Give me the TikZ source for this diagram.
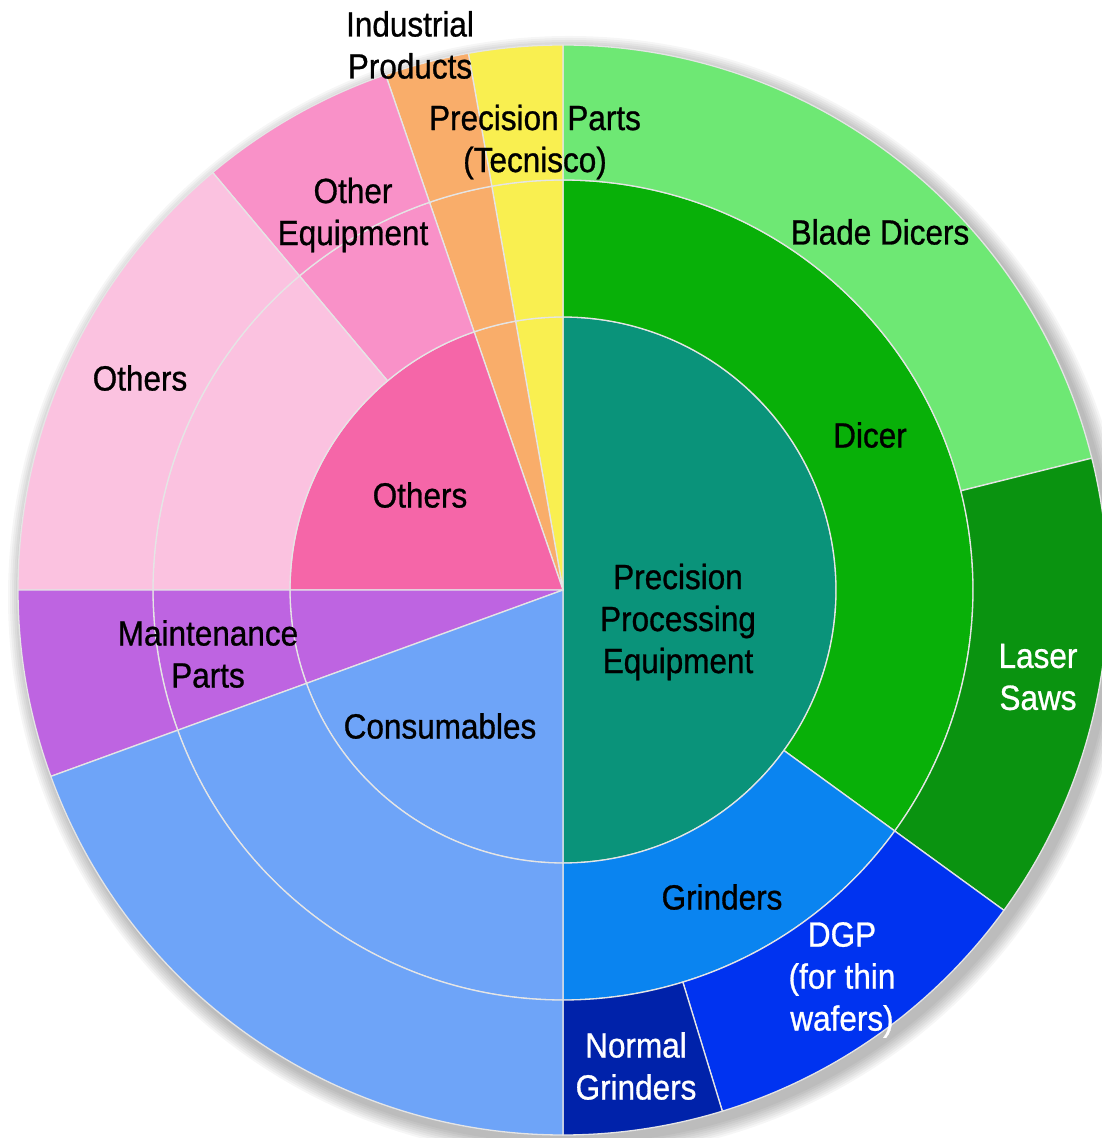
\documentclass[tikz,border=0pt]{standalone}
\usepackage{fontspec}
\setmainfont{Liberation Sans}[FakeStretch=0.9,FakeBold=0.8]
\definecolor{cPPE}{RGB}{10,147,122}
\definecolor{cDicer}{RGB}{8,176,8}
\definecolor{cBlade}{RGB}{110,232,116}
\definecolor{cLaser}{RGB}{10,147,16}
\definecolor{cGrind}{RGB}{10,132,240}
\definecolor{cDGP}{RGB}{0,51,240}
\definecolor{cNormal}{RGB}{0,34,170}
\definecolor{cCons}{RGB}{110,164,248}
\definecolor{cMaint}{RGB}{190,100,225}
\definecolor{cOthDark}{RGB}{245,102,168}
\definecolor{cOthLight}{RGB}{251,194,224}
\definecolor{cOthEq}{RGB}{249,145,200}
\definecolor{cOrange}{RGB}{249,173,106}
\definecolor{cYellow}{RGB}{249,239,80}
\newcommand{\ringseg}[5]{%
  \path[seg,fill=#5] (#3:#1pt) arc[start angle=#3,end angle=#4,radius=#1pt]
    -- (#4:#2pt) arc[start angle=#4,end angle=#3,radius=#2pt] -- cycle;}
\newcommand{\wedgeseg}[4]{%
  \path[seg,fill=#4] (0,0) -- (#2:#1pt) arc[start angle=#2,end angle=#3,radius=#1pt] -- cycle;}
\begin{document}
\begin{tikzpicture}[x=1pt,y=1pt,
  seg/.style={draw=white!80!gray,line width=1.3pt,line join=round},
  lbl/.style={align=center,text=black,font=\fontsize{35}{42}\selectfont,inner sep=0pt},
  wlbl/.style={lbl,text=white}]
\useasboundingbox (0,0) rectangle (1102,1138);
\clip (0,0) rectangle (1102,1138);
\fill[white] (0,0) rectangle (1102,1138);
% soft shadow
\foreach \i in {1,...,8}{\fill[black,opacity=0.035] (569,541) circle[radius=545+2*\i];}
\begin{scope}[shift={(563,548)}]
% inner ring
\wedgeseg{273}{-90}{90}{cPPE}
\wedgeseg{273}{90}{100}{cYellow}
\wedgeseg{273}{100}{109}{cOrange}
\wedgeseg{273}{109}{180}{cOthDark}
\wedgeseg{273}{180}{200}{cMaint}
\wedgeseg{273}{200}{270}{cCons}
% middle ring
\ringseg{273}{410}{-36}{90}{cDicer}
\ringseg{273}{410}{-90}{-36}{cGrind}
\ringseg{273}{410}{90}{100}{cYellow}
\ringseg{273}{410}{100}{109}{cOrange}
\ringseg{273}{410}{109}{130}{cOthEq}
\ringseg{273}{410}{130}{180}{cOthLight}
\ringseg{273}{410}{180}{200}{cMaint}
\ringseg{273}{410}{200}{270}{cCons}
% outer ring
\ringseg{410}{545}{14}{90}{cBlade}
\ringseg{410}{545}{-36}{14}{cLaser}
\ringseg{410}{545}{-73}{-36}{cDGP}
\ringseg{410}{545}{-90}{-73}{cNormal}
\ringseg{410}{545}{90}{100}{cYellow}
\ringseg{410}{545}{100}{109}{cOrange}
\ringseg{410}{545}{109}{130}{cOthEq}
\ringseg{410}{545}{130}{180}{cOthLight}
\ringseg{410}{545}{180}{200}{cMaint}
\ringseg{410}{545}{200}{270}{cCons}
\end{scope}
% labels
\node[lbl] (ind) at (410,1093) {Industrial\\Products};
\node[lbl] (pp) at (535,996) {Precision Parts\\(Tecnisco)};
\node[lbl] (oeq) at (353,923) {Other\\Equipment};
\node[lbl] (blade) at (880,906) {Blade Dicers};
\node[lbl] (oth1) at (140,760) {Others};
\node[lbl] (dicer) at (870,703) {Dicer};
\node[lbl] (oth2) at (420,643) {Others};
\node[lbl] (ppe) at (678,516) {Precision\\Processing\\Equipment};
\node[lbl] (maint) at (208,484) {Maintenance\\Parts};
\node[wlbl] (laser) at (1038,461) {Laser\\Saws};
\node[lbl] (cons) at (440,412) {Consumables};
\node[lbl] (grind) at (722,241) {Grinders};
\node[wlbl] (dgp) at (842,158) {DGP\\(for thin\\wafers)};
\node[wlbl] (normal) at (636,72) {Normal\\Grinders};
\end{tikzpicture}
\end{document}
